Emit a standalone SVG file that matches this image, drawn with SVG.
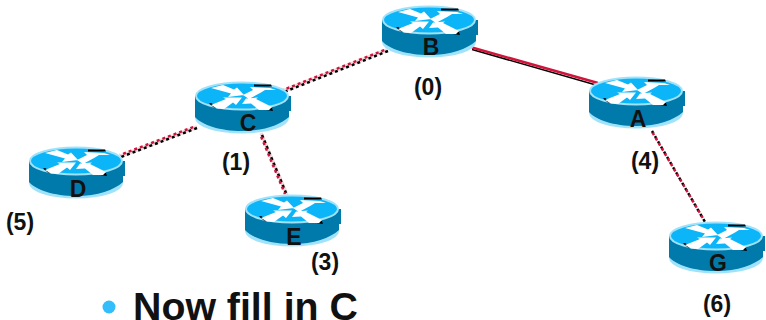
<svg xmlns="http://www.w3.org/2000/svg" width="766" height="320" viewBox="0 0 766 320">
<style>
text{font-family:"Liberation Sans",Arial,sans-serif;font-weight:700;fill:#111}
.n{font-size:23px;text-anchor:middle}
.c{font-size:23px;text-anchor:middle}
.halo{fill:#9fe2fa}
.body{fill:#007aab}
.top{fill:#0cb4f8;stroke:#9fe2fa;stroke-width:2}
.w{fill:#fff}
.k{fill:#000}
.lk{fill:none;stroke:#000;stroke-width:2.500}
.lr{fill:none;stroke:#d1143c;stroke-width:2.500}
.s1{stroke-width:1.500}
.d1{stroke-dasharray:3 3}
.d2{stroke-dasharray:3 3;stroke-dashoffset:3}
.halo2{fill:none;stroke:#f0d8dc;stroke-width:3.500}
</style>
<defs>
<g id="router">
<ellipse class="halo" cx="0" cy="22" rx="47" ry="15.500"/>
<path class="body" d="M-47 0V21C-40 29-22 35 0 35S38 29 47 21V15H49V0Z"/>
<ellipse class="top" cx="0" cy="0" rx="46" ry="13.500"/>
<path class="k" d="M12-11.500H29L30-9.500H12ZM-33 7.500-31 7-26 10H-22L-18 12-28 11.500ZM16 12 20 11 30 12 31 15 24 14Z"/>
<path class="w" d="M-31-8-19-11-8-6.500-5-8.500 2-1-14 1-11-2.500ZM1-1 11-6 8-9 28-8 34-6 23-6 19-3.500 7 3ZM-31 9-16 3-19 1.500 0 1.500-6 9-9 6.500-18 13-25 12.500ZM0 8 4 2.500 16 1.500 14 3 30 11 27 14 17 14 9 7.500Z"/>
</g>
</defs>
<g id="connectors">
<path class="halo2" d="M387 50 283 91M197 127 121 156M261 133 287 195"/>
<path class="lk s1" d="M472 49.500 596 85"/>
<path class="lr" d="M472 47.500 598 83"/>
<path class="lk d1" d="M388 51 284 92M197 128 121 157M262 135 286 193M652 131 705 222"/>
<path class="lr d2" d="M387 49 283 90M196 126 120 155M260 134 285 194M651 130 704 220"/>
</g>
<g id="node-b"><use href="#router" x="429" y="20"/><text class="n" x="431" y="55">B</text></g>
<g id="node-c"><use href="#router" x="242" y="96"/><text class="n" x="248" y="131">C</text></g>
<g id="node-d"><use href="#router" x="76" y="161"/><text class="n" x="78" y="197">D</text></g>
<g id="node-e"><use href="#router" x="292" y="209"/><text class="n" x="294" y="245">E</text></g>
<g id="node-a"><use href="#router" x="636" y="91"/><text class="n" x="638" y="127">A</text></g>
<g id="node-g"><use href="#router" x="716" y="236"/><text class="n" x="718" y="271">G</text></g>
<text class="c" x="428" y="95">(0)</text>
<text class="c" x="236" y="170">(1)</text>
<text class="c" x="645" y="169">(4)</text>
<text class="c" x="20" y="230">(5)</text>
<text class="c" x="325" y="270">(3)</text>
<text class="c" x="717" y="312">(6)</text>
<circle cx="109" cy="307" r="6.500" fill="#33bdfb"/>
<text x="133" y="320" style="font-size:39.300px">Now fill in C</text>
</svg>
